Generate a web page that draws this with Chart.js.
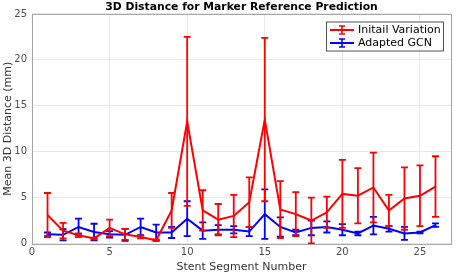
<!DOCTYPE html>
<html>
<head>
<meta charset="utf-8">
<script src="https://cdn.jsdelivr.net/npm/chart.js@4"></script>
<style>
  html, body { margin: 0; padding: 0; background: #fff; }
  #wrap { width: 457px; height: 274px; }
</style>
</head>
<body>
<div id="wrap"><canvas id="chart" width="457" height="274"></canvas></div>
<script>
const segments = [1, 2, 3, 4, 5, 6, 7, 8, 9, 10, 11, 12, 13, 14, 15, 16, 17, 18, 19, 20, 21, 22, 23, 24, 25, 26]

// Initail Variation: mean and symmetric error
const initMean = [3.1, 1.4, 0.9, 0.55, 1.7, 1.0, 0.7, 0.35, 3.6, 13.3, 3.6, 2.6, 3.0, 4.5, 13.5, 3.7, 3.2, 2.5, 3.4, 5.4, 5.2, 6.1, 3.6, 4.9, 5.2, 6.2]
const initErr = [2.4, 0.85, 0.2, 0.1, 0.9, 0.6, 0.15, 0.1, 1.9, 9.2, 2.2, 1.7, 2.3, 2.7, 8.9, 3.1, 2.4, 2.5, 1.7, 3.7, 3.0, 3.8, 1.7, 3.4, 3.3, 3.3]

// Adapted GCN: mean and symmetric error
const gcnMean = [1.0, 0.95, 1.8, 1.25, 1.0, 0.95, 1.8, 1.2, 1.2, 2.7, 1.4, 1.5, 1.5, 1.3, 3.2, 1.8, 1.2, 1.7, 1.8, 1.5, 1.1, 1.95, 1.6, 1.1, 1.2, 2.0]
const gcnErr = [0.2, 0.6, 0.9, 0.9, 0.35, 0.65, 0.9, 0.85, 0.6, 1.9, 0.9, 0.5, 0.4, 0.5, 2.7, 1.05, 0.3, 0.8, 0.6, 0.6, 0.2, 0.95, 0.3, 0.7, 0.1, 0.2]

const yTicks = [0, 5, 10, 15, 20, 25]
const xTicks = [0, 5, 10, 15, 20, 25]

Chart.defaults.font.family = "'DejaVu Sans', sans-serif"

function points(means) {
    return segments.map((s, i) => ({ x: s, y: means[i] }))
}

const errors = [initErr, gcnErr]
const means = [initMean, gcnMean]

const errorBars = {
    id: "errorBars",
    afterDatasetDraw(chart, args) {
        const i = args.index
        const ds = chart.data.datasets[i]
        const xs = chart.scales.x
        const ys = chart.scales.y
        const ctx = chart.ctx
        ctx.save()
        ctx.strokeStyle = ds.borderColor
        ctx.lineWidth = 1.8
        ctx.beginPath()
        segments.forEach((s, k) => {
            const px = xs.getPixelForValue(s)
            const top = ys.getPixelForValue(means[i][k] + errors[i][k])
            const bot = ys.getPixelForValue(Math.max(means[i][k] - errors[i][k], 0))
            ctx.moveTo(px, top)
            ctx.lineTo(px, bot)
            ctx.moveTo(px - 3.5, top)
            ctx.lineTo(px + 3.5, top)
            ctx.moveTo(px - 3.5, bot)
            ctx.lineTo(px + 3.5, bot)
        })
        ctx.stroke()
        ctx.restore()
    },
    afterDraw(chart) {
        const ctx = chart.ctx
        const a = chart.chartArea
        ctx.save()
        // box around axes
        ctx.strokeStyle = "#a6a6a6"
        ctx.lineWidth = 1
        ctx.strokeRect(Math.round(a.left) + 0.5, Math.round(a.top) + 0.5, Math.round(a.right - a.left), Math.round(a.bottom - a.top))

        // legend
        const lx = 326, ly = 21.5, lw = 117, lh = 29
        ctx.fillStyle = "#fff"
        ctx.fillRect(lx, ly, lw, lh)
        ctx.strokeStyle = "#262626"
        ctx.lineWidth = 0.8
        ctx.strokeRect(lx + 0.5, ly + 0.5, lw, lh)
        ctx.font = "11px 'DejaVu Sans'"
        ctx.textBaseline = "middle"
        chart.data.datasets.forEach((ds, k) => {
            const cy = ly + 8.5 + k * 13
            ctx.strokeStyle = ds.borderColor
            ctx.lineWidth = 2
            ctx.beginPath()
            ctx.moveTo(lx + 4, cy)
            ctx.lineTo(lx + 28, cy)
            ctx.stroke()
            ctx.lineWidth = 1.6
            ctx.beginPath()
            ctx.moveTo(lx + 16, cy - 4)
            ctx.lineTo(lx + 16, cy + 4)
            ctx.moveTo(lx + 13, cy - 4)
            ctx.lineTo(lx + 19, cy - 4)
            ctx.moveTo(lx + 13, cy + 4)
            ctx.lineTo(lx + 19, cy + 4)
            ctx.stroke()
            ctx.fillStyle = "#000"
            ctx.fillText(ds.label, lx + 32, cy + 0.5)
        })
        ctx.restore()
    }
}

new Chart(document.getElementById("chart"), {
    type: "line",
    data: {
        datasets: [
            {
                label: "Initail Variation",
                data: points(initMean),
                borderColor: "#ff0000",
                borderWidth: 2,
                pointRadius: 0,
                tension: 0
            },
            {
                label: "Adapted GCN",
                data: points(gcnMean),
                borderColor: "#0000ff",
                borderWidth: 2,
                pointRadius: 0,
                tension: 0
            }
        ]
    },
    options: {
        responsive: false,
        animation: false,
        layout: { padding: { left: 0, right: 6, top: 0, bottom: 0 } },
        plugins: {
            legend: { display: false },
            tooltip: { enabled: false },
            title: {
                display: true,
                fullSize: false,
                text: "3D Distance for Marker Reference Prediction",
                color: "#000",
                font: { size: 10.8, weight: "bold" },
                padding: { top: 1, bottom: 0 }
            }
        },
        scales: {
            x: {
                type: "linear",
                min: 0,
                max: 27,
                afterBuildTicks: s => { s.ticks = xTicks.map(v => ({ value: v })) },
                ticks: { color: "#4d4d4d", font: { size: 10 }, padding: 3, maxRotation: 0 },
                grid: { color: "#e8e8e8", drawTicks: false },
                border: { display: false },
                title: { display: true, text: "Stent Segment Number", color: "#333", font: { size: 11 }, padding: { top: 2, bottom: 0 } },
                afterFit: s => { s.height = 30.5 }
            },
            y: {
                min: 0,
                max: 25,
                afterBuildTicks: s => { s.ticks = yTicks.map(v => ({ value: v })) },
                ticks: { color: "#4d4d4d", font: { size: 10 }, padding: 5 },
                grid: { color: "#e8e8e8", drawTicks: false },
                border: { display: false },
                title: { display: true, text: "Mean 3D Distance (mm)", color: "#333", font: { size: 11 }, padding: { top: 2, bottom: 0 } },
                afterFit: s => { s.width = 32 }
            }
        }
    },
    plugins: [errorBars]
})
</script>
</body>
</html>
